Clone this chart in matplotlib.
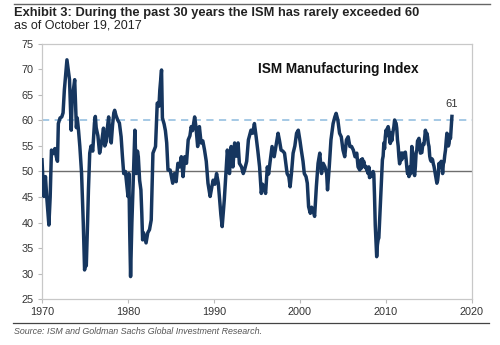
import matplotlib
matplotlib.use("Agg")
import matplotlib.pyplot as plt
import numpy as np

plt.rcParams['font.family'] = ['Liberation Sans', 'DejaVu Sans']

# ISM Manufacturing Index (decimal year, value)
hist_years = [
    1970.00, 1970.12, 1970.23, 1970.40, 1970.55, 1970.80, 1970.95, 1971.10, 1971.30, 1971.50,
    1971.65, 1971.80, 1971.90, 1972.10, 1972.30, 1972.45, 1972.60, 1972.75, 1972.90, 1973.05,
    1973.20, 1973.40, 1973.50, 1973.65, 1973.80, 1974.00, 1974.10, 1974.25, 1974.40, 1974.60,
    1974.80, 1974.95, 1975.05, 1975.15, 1975.30, 1975.40, 1975.55, 1975.70, 1975.90, 1976.10,
    1976.20, 1976.30, 1976.50, 1976.70, 1976.85, 1977.00, 1977.15, 1977.30, 1977.50, 1977.60,
    1977.75, 1977.85, 1978.05, 1978.20, 1978.35, 1978.45, 1978.60, 1978.80, 1979.00, 1979.20,
    1979.35, 1979.50, 1979.70, 1979.80, 1980.00, 1980.10, 1980.20, 1980.30, 1980.45, 1980.65,
    1980.80, 1980.95, 1981.10, 1981.20, 1981.35, 1981.50, 1981.60, 1981.70, 1981.80, 1981.95,
    1982.10, 1982.30, 1982.50, 1982.70, 1982.90, 1983.20, 1983.40, 1983.60, 1983.70, 1983.90,
    1984.00, 1984.20, 1984.35, 1984.50, 1984.65, 1984.90, 1985.05, 1985.20, 1985.40, 1985.60,
    1985.80, 1986.00, 1986.20, 1986.40, 1986.60, 1986.80, 1987.00, 1987.20, 1987.35, 1987.50,
    1987.75, 1987.90, 1988.10, 1988.30, 1988.50, 1988.70, 1988.90, 1989.10, 1989.30, 1989.55,
    1989.75, 1989.90, 1990.10, 1990.30, 1990.50, 1990.65, 1990.80, 1990.95, 1991.20, 1991.40,
    1991.55, 1991.70, 1991.80, 1992.00, 1992.20, 1992.40, 1992.60, 1992.80, 1992.95, 1993.20,
    1993.40, 1993.55, 1993.80, 1994.00, 1994.30, 1994.50, 1994.70, 1994.90, 1995.10, 1995.30,
    1995.50, 1995.65, 1995.80, 1996.00, 1996.20, 1996.35, 1996.50, 1996.75, 1997.00, 1997.20,
    1997.45, 1997.60, 1997.80, 1998.00, 1998.20, 1998.50, 1998.70, 1998.85, 1999.00, 1999.20,
    1999.40, 1999.60, 1999.80, 2000.00, 2000.15, 2000.35, 2000.50, 2000.70, 2000.85, 2001.00,
    2001.20, 2001.35, 2001.50, 2001.70, 2001.90, 2002.10, 2002.30, 2002.50, 2002.70, 2002.90,
    2003.10, 2003.20, 2003.40, 2003.60, 2003.85, 2004.05, 2004.20, 2004.40, 2004.60, 2004.80,
    2005.00, 2005.20, 2005.40, 2005.60, 2005.80, 2006.00, 2006.20, 2006.40, 2006.60, 2006.75,
    2006.95,
]
hist_values = [
    52.3, 48.0, 45.1, 49.0, 45.0, 39.5, 45.0, 54.2, 53.5, 54.5,
    53.0, 52.0, 59.4, 60.5, 60.7, 61.5, 66.0, 69.0, 71.9, 70.0,
    68.0, 58.1, 64.0, 66.0, 68.0, 58.6, 60.5, 58.0, 54.9, 49.7,
    39.9, 30.7, 32.0, 31.5, 40.0, 46.4, 53.6, 55.0, 54.0, 59.5,
    60.8, 58.6, 57.0, 53.6, 55.0, 56.6, 58.5, 55.0, 56.0, 58.5,
    60.7, 58.0, 55.6, 59.0, 61.5, 62.0, 61.0, 60.1, 59.5, 56.8,
    53.0, 49.6, 50.0, 48.3, 45.1, 49.6, 38.0, 29.4, 39.9, 50.0,
    58.1, 49.6, 54.0, 52.9, 48.3, 46.4, 42.0, 36.6, 38.0, 37.0,
    36.0, 38.0, 38.6, 40.5, 53.6, 54.9, 63.4, 62.8, 66.0, 69.9,
    60.5, 59.3, 58.0, 55.6, 50.3, 50.3, 49.0, 47.7, 49.6, 48.0,
    51.6, 50.9, 52.9, 49.0, 52.9, 51.6, 56.2, 57.0, 58.8, 58.0,
    60.7, 58.8, 54.9, 58.8, 55.6, 56.0, 54.2, 52.0, 47.7, 45.1,
    47.0, 48.3, 47.5, 49.6, 47.7, 44.5, 41.5, 39.2, 44.5, 50.0,
    54.2, 52.0, 49.6, 54.9, 50.9, 55.6, 53.0, 55.6, 51.6, 50.9,
    49.6, 50.3, 52.0, 56.2, 58.1, 57.5, 59.4, 56.8, 54.0, 50.9,
    45.7, 47.5, 47.0, 45.7, 50.9, 49.5, 51.6, 54.9, 52.9, 55.0,
    57.5, 56.2, 54.2, 54.0, 53.6, 49.6, 49.0, 47.0, 49.5, 53.6,
    55.0, 57.5, 58.1, 56.0, 54.2, 52.0, 49.6, 49.0, 47.7, 43.1,
    41.8, 43.0, 42.5, 41.2, 47.0, 51.6, 53.6, 49.6, 51.6, 50.9,
    49.6, 46.4, 50.9, 56.2, 59.4, 60.7, 61.4, 60.1, 57.5, 56.8,
    54.2, 52.9, 56.2, 56.8, 54.9, 54.9, 54.2, 52.9, 53.6, 50.9,
    50.3,
]
# Monthly values 2007 - Sep 2017
monthly_start = 2007
monthly_values = [
    51.0, 52.3, 50.7, 52.5, 51.5, 52.0, 51.2, 50.8, 51.0, 50.3, 50.1, 49.6,
    50.9, 48.8, 49.3, 49.0, 49.6, 49.8, 50.0, 49.5, 45.1, 39.5, 36.6, 33.3,
    35.6, 36.6, 37.0, 40.1, 42.8, 46.4, 49.0, 52.3, 53.0, 55.6, 54.5, 56.8,
    58.1, 57.0, 58.5, 58.8, 58.1, 56.2, 55.5, 57.5, 56.0, 57.0, 58.0, 58.8,
    60.1, 59.5, 59.5, 58.5, 56.2, 55.0, 52.9, 51.5, 52.5, 53.6, 52.3, 53.6,
    53.6, 52.8, 53.0, 53.8, 52.5, 50.9, 49.6, 49.8, 49.0, 50.9, 49.5, 50.9,
    54.9, 53.8, 51.5, 49.6, 49.2, 51.0, 53.6, 54.2, 56.0, 56.2, 56.5, 55.6,
    53.6, 53.8, 53.7, 54.9, 55.4, 55.3, 56.8, 58.1, 56.8, 57.5, 56.8, 55.5,
    54.9, 53.0, 52.3, 52.0, 52.5, 52.3, 51.5, 51.0, 50.2, 49.5, 48.6, 47.7,
    48.2, 49.5, 51.6, 50.8, 51.3, 52.0, 51.5, 49.6, 51.5, 51.9, 53.2, 54.2,
    56.0, 57.5, 57.2, 55.0, 55.5, 57.0, 56.5, 58.8, 60.8,
]
x_ticks = [1970, 1980, 1990, 2000, 2010, 2020]
y_ticks = [25, 30, 35, 40, 45, 50, 55, 60, 65, 70, 75]
last_label = "61"

years = list(hist_years) + [monthly_start + i / 12 for i in range(len(monthly_values))]
values = list(hist_values) + list(monthly_values)

fig = plt.figure(figsize=(5.0, 3.45), dpi=100)
ax = fig.add_axes([0.084, 0.1333, 0.86, 0.7392])

ax.axhline(60, color='#9ec5e3', lw=1.3, ls=(0, (4, 3)), zorder=1)
ax.axhline(50, color='#6e6e6e', lw=1.0, zorder=1)
ax.plot(years, values, color='#16365f', lw=2.5, zorder=3, solid_joinstyle='round')

ax.set_xlim(1970, 2020)
ax.set_ylim(25, 75)
ax.set_xticks(x_ticks)
ax.set_yticks(y_ticks)
ax.tick_params(axis='both', labelsize=7.8, colors='#bbbbbb', labelcolor='#333333',
               length=3, width=0.8, pad=3)
for s in ax.spines.values():
    s.set_color('#c8c8c8')
    s.set_linewidth(0.9)

ax.text(0.503, 0.90, "ISM Manufacturing Index", transform=ax.transAxes,
        fontsize=9.8, fontweight='bold', color='#111111', ha='left', va='center')
ax.annotate(last_label, xy=(years[-1], values[-1]), xytext=(0, 5),
            textcoords='offset points', ha='center', va='bottom',
            fontsize=8, color='#333333')

fig.text(14 / 500, 1 - 13 / 345, "Exhibit 3: During the past 30 years the ISM has rarely exceeded 60",
         fontsize=9.25, fontweight='bold', color='#222222', ha='left', va='center')
fig.text(14 / 500, 1 - 26 / 345, "as of October 19, 2017",
         fontsize=9, color='#222222', ha='left', va='center')
fig.text(14 / 500, 1 - 331 / 345, "Source: ISM and Goldman Sachs Global Investment Research.",
         fontsize=6.4, style='italic', color='#555555', ha='left', va='center')

fig.add_artist(plt.Line2D([14 / 500, 490 / 500], [1 - 4 / 345, 1 - 4 / 345],
                          transform=fig.transFigure, color='#666666', lw=1.0))
fig.add_artist(plt.Line2D([13 / 500, 489 / 500], [1 - 322.5 / 345, 1 - 322.5 / 345],
                          transform=fig.transFigure, color='#444444', lw=0.9))

fig.savefig("out.png", dpi=100)
